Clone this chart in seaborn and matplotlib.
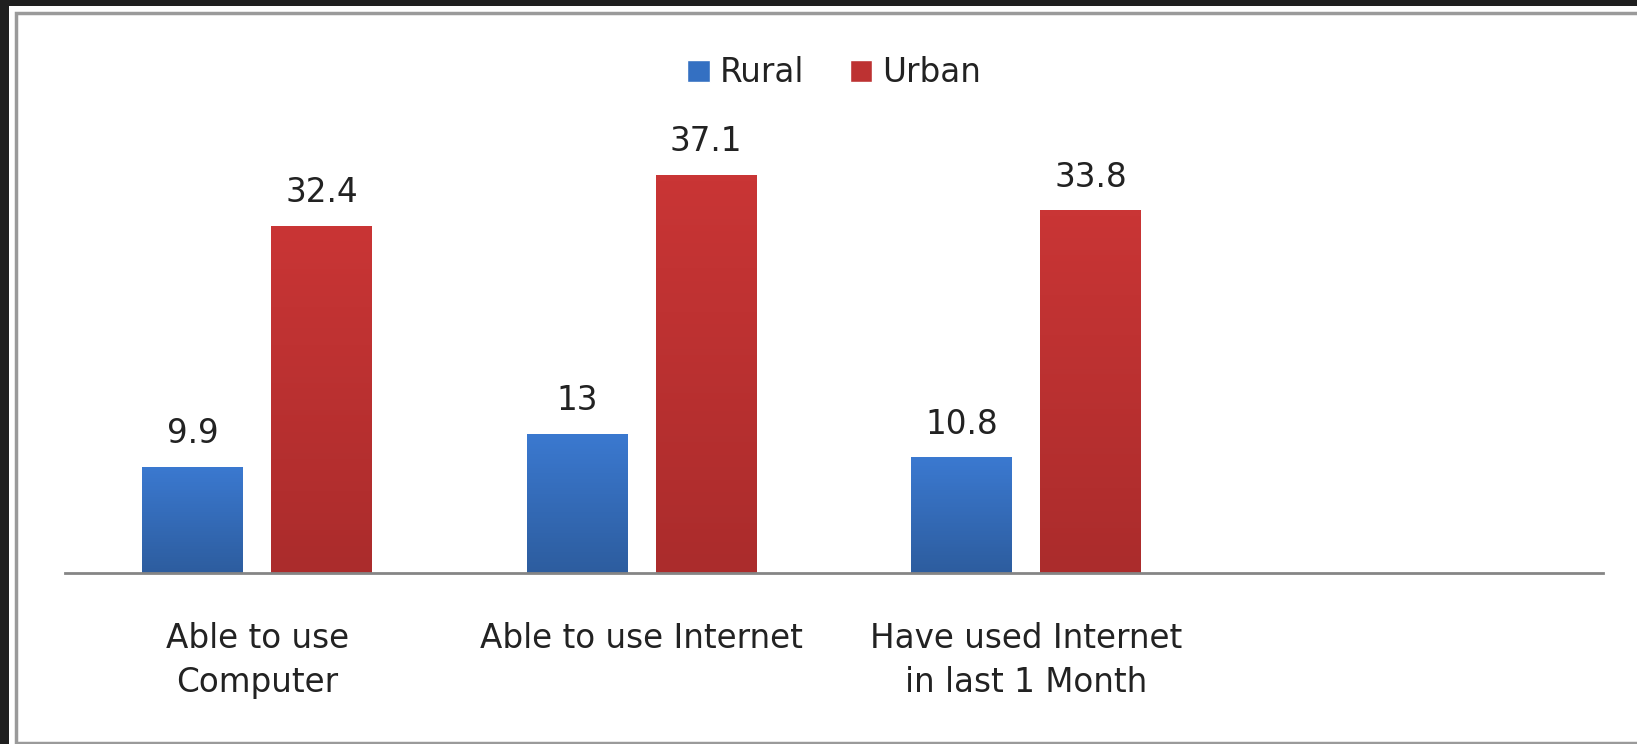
import numpy as np
import pandas as pd
import matplotlib
matplotlib.use("Agg")
import matplotlib.pyplot as plt
import matplotlib.colors as mcolors
from matplotlib.patches import Rectangle
import seaborn as sns

categories = ["Able to use\nComputer", "Able to use Internet", "Have used Internet\nin last 1 Month"]
rural = [9.9, 13, 10.8]
urban = [32.4, 37.1, 33.8]
series = ["Rural", "Urban"]

df = pd.DataFrame({
    "category": categories * 2,
    "group": ["Rural"] * len(categories) + ["Urban"] * len(categories),
    "value": rural + urban,
})

sns.set_theme(style="white")
plt.rcParams["font.family"] = ["DejaVu Sans"]

W, H, DPI = 1637, 744, 100
FS = 23.5
fig = plt.figure(figsize=(W / DPI, H / DPI), dpi=DPI, facecolor="#1f1f1f")

# white chart panel with a gray frame, kept behind the axes
fig.patches.append(Rectangle((9 / W, 0), 1, 1 - 6 / H, transform=fig.transFigure,
                             facecolor="white", edgecolor="none", zorder=-10))
fig.patches.append(Rectangle((16 / W, 1 / H), 1, 1 - 14 / H, transform=fig.transFigure,
                             facecolor="white", edgecolor="#9a9a9a", linewidth=2.5, zorder=-9))

ax = fig.add_axes([65 / W, 171 / H, 1538 / W, 429 / H])
ax.set_facecolor("none")
ax.set_zorder(1)

palette = {"Rural": "#3470c2", "Urban": "#bd3232"}
sns.barplot(data=df, x="category", y="value", hue="group", order=categories,
            hue_order=series, palette=palette, width=0.671, gap=0.218,
            saturation=1, ax=ax, legend=True)

# vertical shading inside each bar
grads = {
    "Rural": ["#3b79d0", "#2d5d9f"],
    "Urban": ["#c93535", "#ab2c2c"],
}
for cont, name in zip(ax.containers, series):
    cmap = mcolors.LinearSegmentedColormap.from_list(name, grads[name][::-1])
    for bar in cont:
        x0, y0 = bar.get_x(), bar.get_y()
        w, h = bar.get_width(), bar.get_height()
        img = ax.imshow(np.linspace(0, 1, 64).reshape(-1, 1), cmap=cmap, origin="lower",
                        extent=[x0, x0 + w, y0, y0 + h], aspect="auto", zorder=2)
        img.set_clip_path(bar)
        bar.set_zorder(1)
    ax.bar_label(cont, labels=[f"{v:g}" for v in cont.datavalues], padding=12,
                 fontsize=FS, color="#222222", zorder=3)

ax.set_xlim(-0.5, 3.5)
ax.set_ylim(0, 40)
ax.set_xlabel("")
ax.set_ylabel("")
ax.set_yticks([])
ax.tick_params(axis="x", length=0, pad=35, labelsize=FS, labelcolor="#222222")
for lbl in ax.get_xticklabels():
    lbl.set_linespacing(1.45)
for s in ["top", "left", "right"]:
    ax.spines[s].set_visible(False)
ax.spines["bottom"].set_color("#858585")
ax.spines["bottom"].set_linewidth(2)

leg = ax.legend(loc="upper center", bbox_to_anchor=(0.5, 1.0 + 117 / 429), ncol=2,
                frameon=False, fontsize=FS, handlelength=0.7, handleheight=0.7,
                handletextpad=0.3, columnspacing=1.4, labelcolor="#222222")
for hnd, name in zip(leg.legend_handles, series):
    hnd.set_facecolor(palette[name])

fig.savefig("out.png", dpi=DPI, facecolor=fig.get_facecolor())
